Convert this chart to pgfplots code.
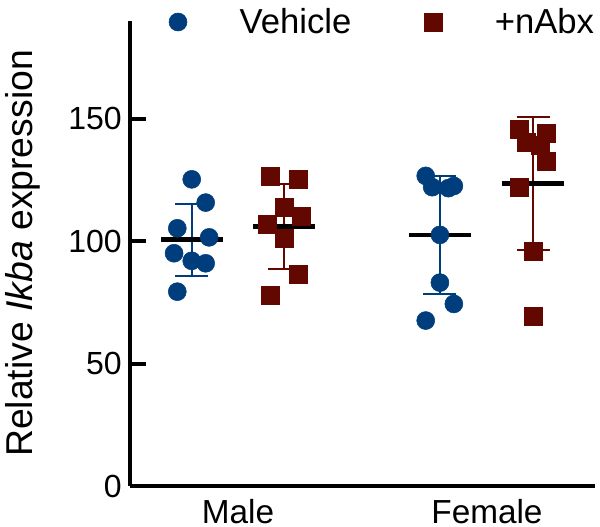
\documentclass[border=0pt]{standalone}
\usepackage{fontspec}
\setmainfont{Liberation Sans}
\usepackage{pgfplots}
\usepackage{pgfplotstable}
\pgfplotsset{compat=1.18}
\definecolor{vblue}{RGB}{0,61,125}
\definecolor{vred}{RGB}{98,8,0}

\pgfplotstableread{
x y
0.814 125.3
0.870 115.8
0.756 105.3
0.884 101.6
0.743 95.1
0.814 92.0
0.870 91.0
0.756 79.4
1.754 126.7
1.780 122.1
1.845 121.7
1.867 122.6
1.811 102.6
1.811 83.1
1.867 74.4
1.754 67.6
}\vehicle
\pgfplotstableread{
x y
1.131 126.4
1.242 125.3
1.185 113.9
1.256 110.3
1.118 107.1
1.185 101.2
1.242 86.6
1.131 78.1
2.130 145.8
2.157 140.3
2.240 144.1
2.213 139.4
2.240 132.5
2.130 122.1
2.184 95.8
2.184 69.2
}\nabx
\pgfplotstableread{
x y e
0.814 100.7 14.7
1.811 102.6 24.1
}\vehstats
\pgfplotstableread{
x y e
1.185 106.1 17.3
2.186 123.65 27.3
}\nabxstats

\begin{document}
\begin{tikzpicture}
\begin{axis}[
 scale only axis, width=348.75pt, height=348.75pt,
 xmin=0.566, xmax=2.434, ymin=0, ymax=190,
 axis x line*=bottom, axis y line*=left,
 axis line style={-, line width=3pt, black},
 ytick={0,50,100,150},
 xtick={1,2}, xticklabels={Male,Female},
 tick align=inside,
 major tick length=12pt,
 y tick style={line width=3pt, black},
 x tick style={draw=none},
 /pgf/number format/assume math mode=true,
 yticklabel style={font=\fontsize{24}{28}\selectfont, inner sep=0pt, xshift=-6pt},
 xticklabel style={font=\fontsize{25}{30}\selectfont, inner sep=0pt, yshift=-9.5pt},
 ylabel={Relative \textit{Ikba} expression},
 ylabel style={font=\fontsize{28}{33}\selectfont, at={(axis description cs:-0.2086,0.5)}, anchor=base, inner sep=0pt},
 clip=false,
 legend columns=2,
 legend style={draw=none, fill=none, inner sep=0pt, outer sep=0pt,
   at={(axis description cs:0.0839,0.9978)}, anchor=west,
   font=\fontsize{26}{30}\selectfont, nodes={inner sep=0pt},
   /tikz/every odd column/.style={column sep=39.5pt},
   /tikz/every even column/.style={column sep=54.5pt}},
 legend image code/.code={\draw[#1] plot coordinates {(0pt,0pt)};},
]
\addlegendimage{only marks, mark=*, color=vblue, mark size=6.75pt}
\addlegendentry{Vehicle}
\addlegendimage{only marks, mark=square*, color=vred, mark size=6.75pt}
\addlegendentry{+nAbx}

% error bars (mean +- SD)
\addplot[forget plot, only marks, mark=none, color=vblue,
  error bars/.cd, y dir=both, y explicit, error mark=|,
  error bar style={line width=1.5pt, vblue},
  error mark options={mark size=12.4pt, line width=1.5pt, vblue}]
  table[x=x, y=y, y error=e] {\vehstats};
\addplot[forget plot, only marks, mark=none, color=vred,
  error bars/.cd, y dir=both, y explicit, error mark=|,
  error bar style={line width=1.5pt, vred},
  error mark options={mark size=12.4pt, line width=1.5pt, vred}]
  table[x=x, y=y, y error=e] {\nabxstats};

% mean lines
\addplot[forget plot, only marks, mark=-, mark size=23.25pt, mark options={line width=3.3pt, black}]
  table[x=x, y=y] {\vehstats};
\addplot[forget plot, only marks, mark=-, mark size=23.25pt, mark options={line width=3.3pt, black}]
  table[x=x, y=y] {\nabxstats};

% points
\addplot[forget plot, only marks, mark=*, color=vblue, mark size=6.75pt]
  table[x=x, y=y] {\vehicle};
\addplot[forget plot, only marks, mark=square*, color=vred, mark size=6.75pt]
  table[x=x, y=y] {\nabx};
\end{axis}
\pgfresetboundingbox
\path[use as bounding box] (current axis.south west) ++(-97.5pt,-30.75pt) rectangle ++(450pt,395.25pt);
\end{tikzpicture}
\end{document}
